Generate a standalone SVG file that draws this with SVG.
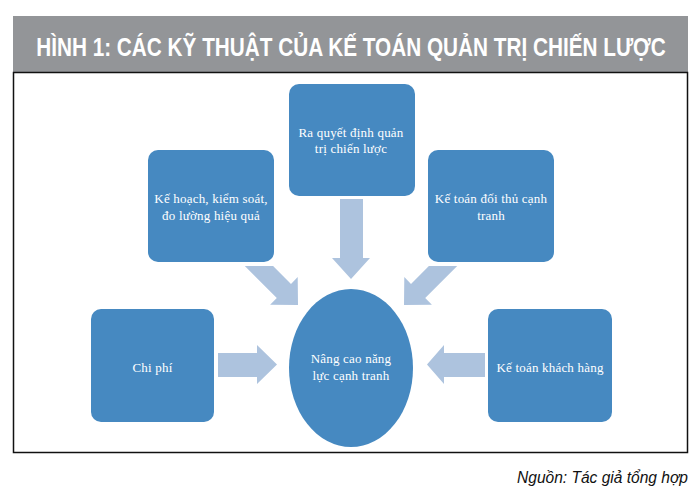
<svg xmlns="http://www.w3.org/2000/svg" width="698" height="498" viewBox="0 0 698 498">
<style>
.box{fill:#4689c1;}
.arr{fill:#adc3de;}
.t{font-family:"Liberation Serif","Times New Roman",serif;font-size:13px;letter-spacing:0.2px;fill:#ffffff;text-anchor:middle;}
.title{font-family:"Liberation Sans",Arial,sans-serif;font-weight:bold;font-size:25px;fill:#ffffff;}
.src{font-family:"Liberation Sans",Arial,sans-serif;font-style:italic;font-size:17px;fill:#111111;text-anchor:end;}
</style>
<rect x="0" y="0" width="698" height="498" fill="#ffffff"/>
<g id="header">
<rect x="13" y="16" width="675" height="56" fill="#939598"/>
<text class="title" transform="translate(351,56) scale(0.83,1)" x="0" y="0" text-anchor="middle">HÌNH 1: CÁC KỸ THUẬT CỦA KẾ TOÁN QUẢN TRỊ CHIẾN LƯỢC</text>
</g>
<rect x="13.5" y="72.5" width="674" height="380" fill="none" stroke="#111111" stroke-width="1.5"/>
<g id="connectors">
<polygon class="arr" points="340,199 363,199 363,258 370,258 351,279 332,258 340,258"/>
<polygon class="arr" points="244.8,266 273.1,266 291,283.9 297.7,277.1 298,305 270.1,304.7 276.8,298"/>
<polygon class="arr" points="457.2,266 428.9,266 411,283.9 404.3,277.1 404,305 431.9,304.7 425.2,298"/>
<polygon class="arr" points="218,353 257,353 257,345 277,364.5 257,384 257,377 218,377"/>
<polygon class="arr" points="485,353 444,353 444,345 427,364.5 444,384 444,377 485,377"/>
</g>
<g id="node-top">
<rect class="box" x="289" y="84" width="126" height="112" rx="10"/>
<text class="t" x="351" y="137">Ra quyết định quản</text>
<text class="t" x="351" y="153">trị chiến lược</text>
</g>
<g id="node-upper-left">
<rect class="box" x="148" y="150" width="126" height="112" rx="10"/>
<text class="t" x="211" y="203">Kế hoạch, kiểm soát,</text>
<text class="t" x="211" y="220">đo lường hiệu quả</text>
</g>
<g id="node-upper-right">
<rect class="box" x="428" y="150" width="126" height="112" rx="10"/>
<text class="t" x="491" y="203">Kế toán đối thủ cạnh</text>
<text class="t" x="491" y="220">tranh</text>
</g>
<g id="node-lower-left">
<rect class="box" x="91" y="309" width="123" height="113" rx="10"/>
<text class="t" x="152.5" y="372">Chi phí</text>
</g>
<g id="node-lower-right">
<rect class="box" x="488" y="309" width="124" height="113" rx="10"/>
<text class="t" x="550" y="372">Kế toán khách hàng</text>
</g>
<g id="node-center">
<ellipse class="box" cx="351" cy="368" rx="62" ry="79"/>
<text class="t" x="351" y="363">Nâng  cao năng</text>
<text class="t" x="351" y="380">lực cạnh tranh</text>
</g>
<text class="src" transform="translate(688,483) scale(0.915,1)" x="0" y="0">Nguồn: Tác giả tổng hợp</text>
</svg>
